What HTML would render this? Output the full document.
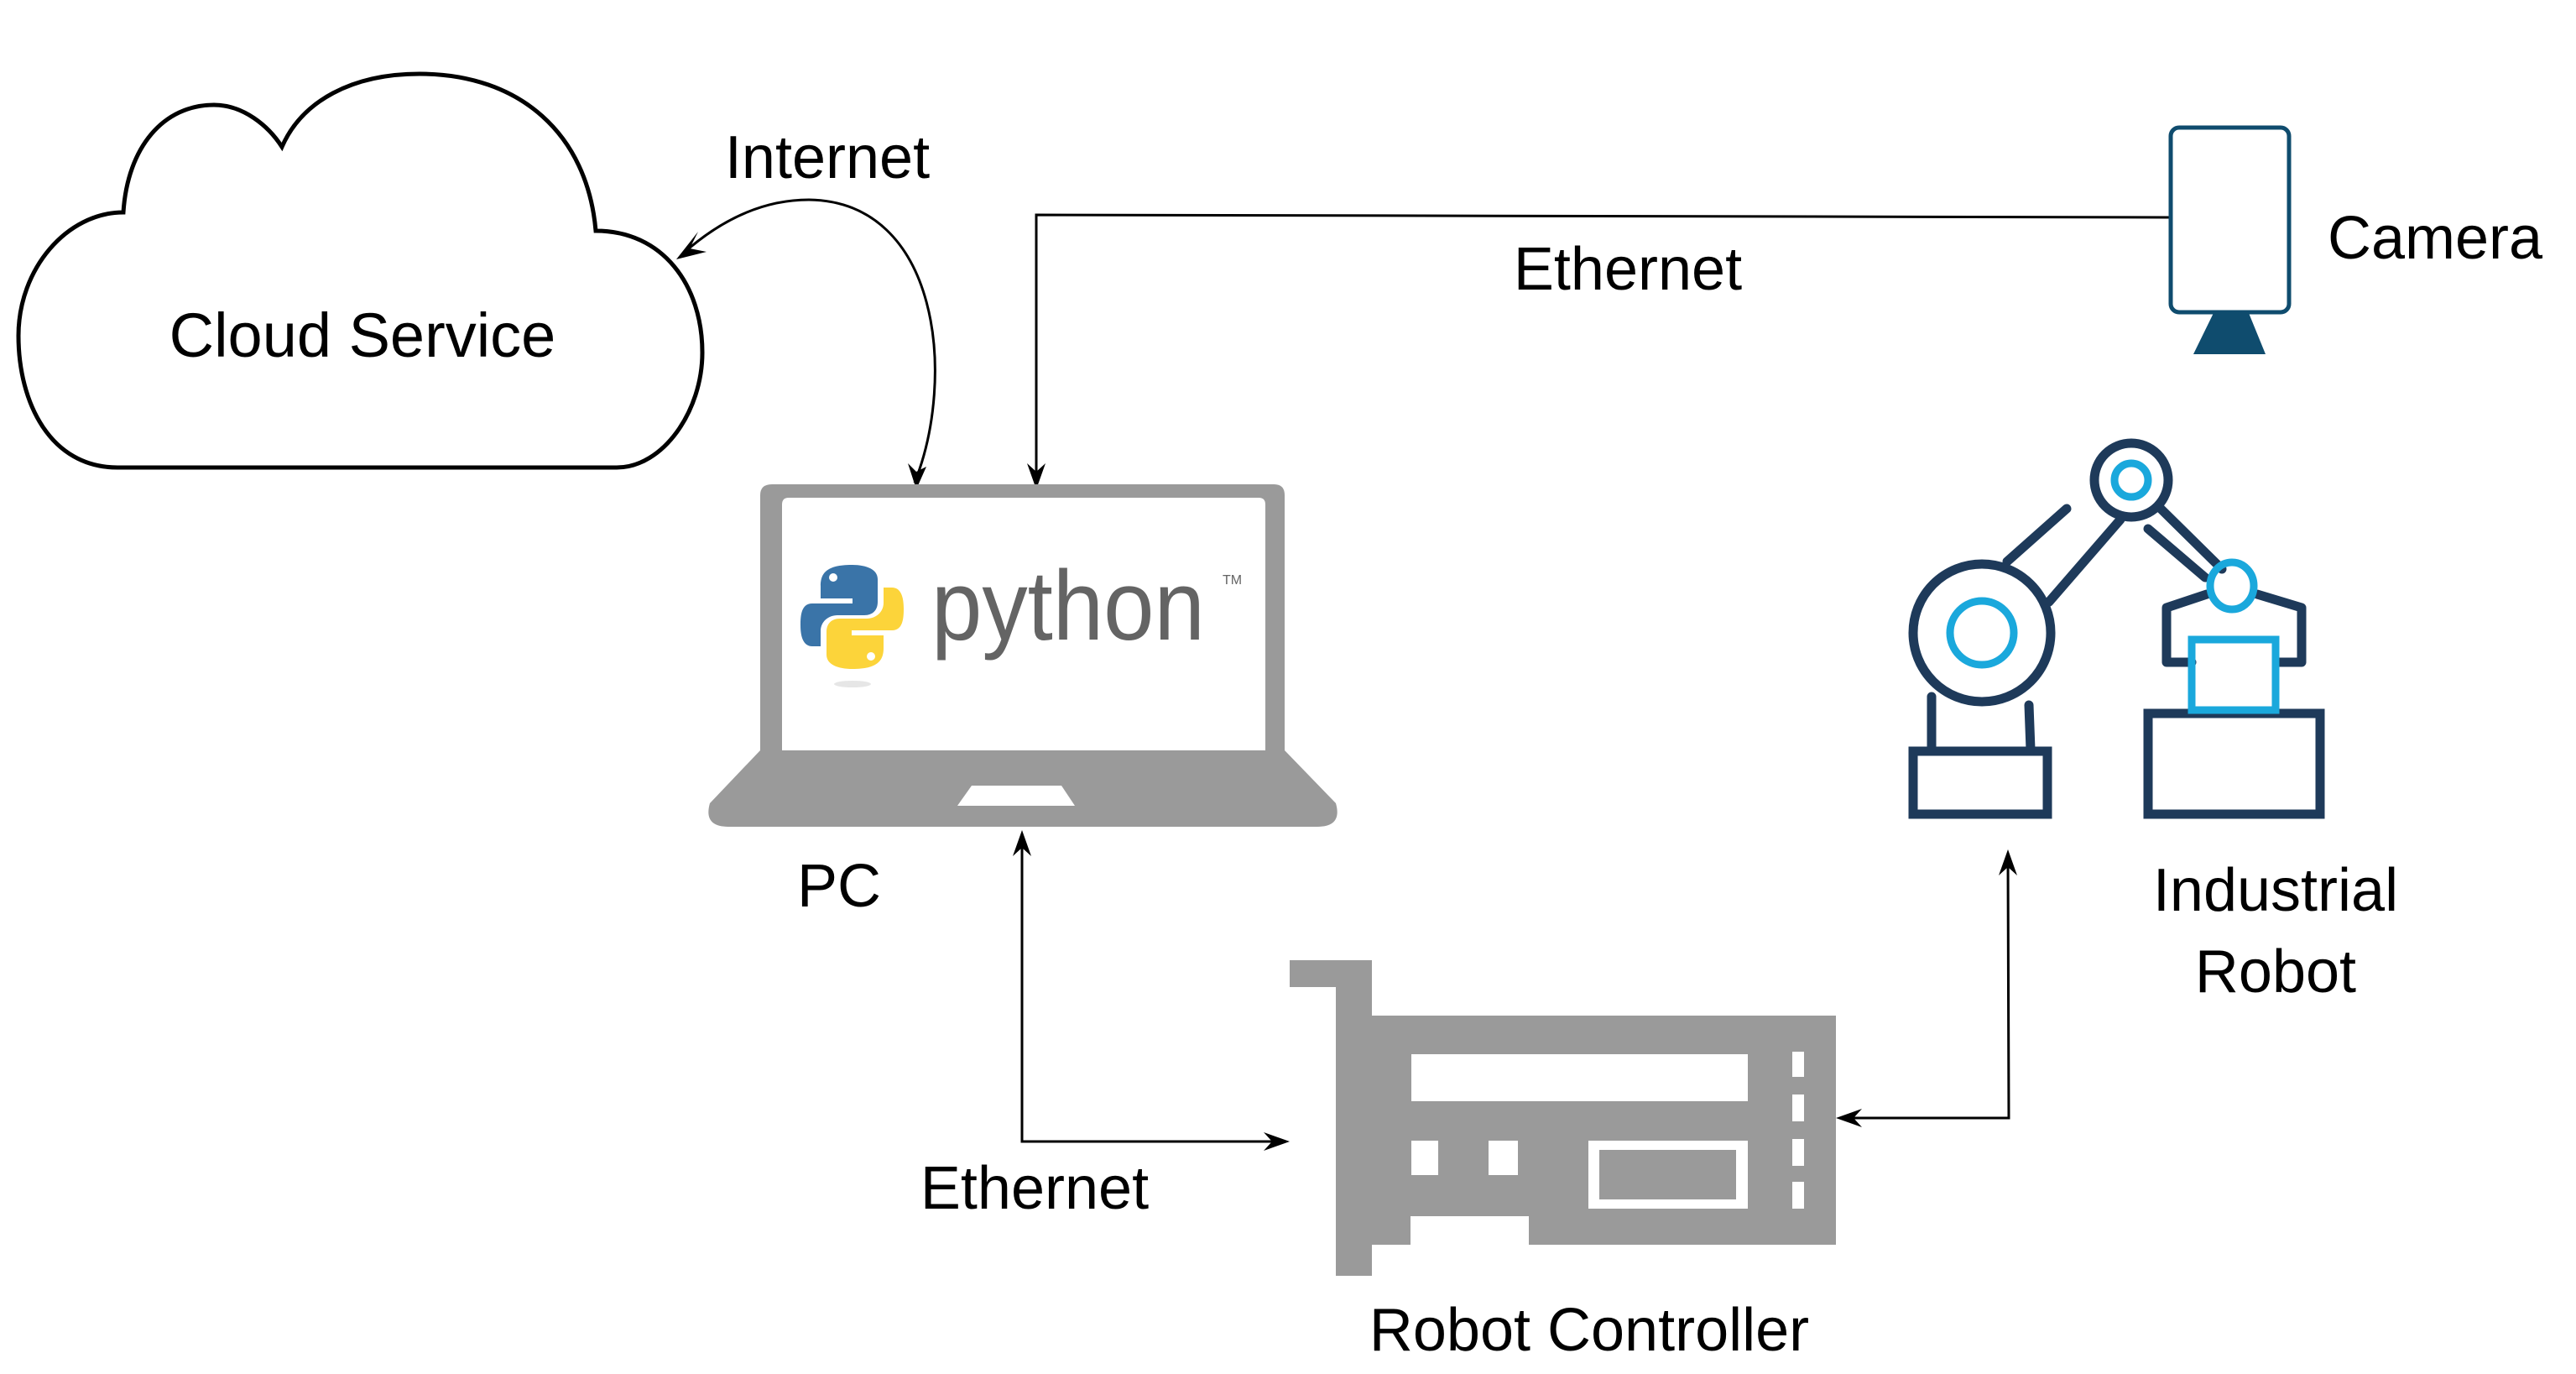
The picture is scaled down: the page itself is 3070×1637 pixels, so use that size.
<!DOCTYPE html>
<html><head><meta charset="utf-8"><style>
html,body{margin:0;padding:0;background:#fff;}
svg{display:block;}
text{font-family:"Liberation Sans",Arial,sans-serif;fill:#000;}
</style></head><body>
<svg width="3070" height="1637" viewBox="0 0 3070 1637" xmlns="http://www.w3.org/2000/svg">
<rect width="3070" height="1637" fill="#fff"/>

<!-- Cloud -->
<path d="M 140 557 C 60 557, 22 480, 22 400 C 22 320, 80 253, 147 253 C 152 175, 195 125, 255 125 C 290 125, 320 150, 336 175 C 360 120, 420 88, 500 88 C 620 88, 700 160, 710 275 C 790 275, 837 340, 837 420 C 837 490, 790 557, 735 557 Z" fill="#fff" stroke="#000" stroke-width="5"/>
<text x="432" y="425" font-size="74" text-anchor="middle">Cloud Service</text>

<!-- Internet curve -->
<path d="M 1090 575 C 1140 450, 1120 240, 964 238 C 900 238, 850 270, 814 302" fill="none" stroke="#000" stroke-width="3"/>
<polygon points="806,309 832,276 822,296 842,300" fill="#000"/>
<polygon points="1092,583 1082,552 1092,562 1104,556" fill="#000"/>
<text x="986" y="212" font-size="72" text-anchor="middle">Internet</text>

<!-- Camera ethernet line -->
<polyline points="2585,259 1235,256 1235,570" fill="none" stroke="#000" stroke-width="3"/>
<polygon points="1235,583 1224,552 1235,562 1246,552" fill="#000"/>
<text x="1940" y="345" font-size="72" text-anchor="middle">Ethernet</text>

<!-- Camera -->
<rect x="2587" y="152" width="141" height="220" rx="10" fill="#fff" stroke="#0f4c6e" stroke-width="5"/>
<polygon points="2638,373 2680,373 2700,422 2614,422" fill="#0f4c6e"/>
<text x="2774" y="308" font-size="72">Camera</text>

<!-- Laptop -->
<path d="M 920 577 L 1518 577 Q 1531 577 1531 590 L 1531 894 L 1592 957 Q 1600 985 1570 985 L 868 985 Q 838 985 846 957 L 906 894 L 906 590 Q 906 577 920 577 Z" fill="#9a9a9a"/>
<path d="M 940 593 L 1500 593 Q 1508 593 1508 601 L 1508 894 L 932 894 L 932 601 Q 932 593 940 593 Z" fill="#fff"/>
<polygon points="1158,936 1265,936 1281,960 1141,960" fill="#fff"/>

<!-- Python logo -->
<g>
<path d="M 1015 673 C 985 673 978 683 978 698 L 978 713 L 1016 713 L 1016 719 L 968 719 C 955 719 954 733 954 745 C 954 760 958 770 968 770 L 978 770 L 978 752 C 978 740 988 733 998 733 L 1030 733 C 1040 733 1046 727 1046 717 L 1046 690 C 1046 678 1032 673 1015 673 Z" fill="#3a74a8"/>
<circle cx="993" cy="688" r="5" fill="#fff"/>
<path d="M 1016 797 C 1046 797 1053 787 1053 772 L 1053 757 L 1015 757 L 1015 751 L 1063 751 C 1076 751 1077 737 1077 725 C 1077 710 1073 700 1063 700 L 1053 700 L 1053 718 C 1053 730 1043 737 1033 737 L 1001 737 C 991 737 985 743 985 753 L 985 780 C 985 792 999 797 1016 797 Z" fill="#fcd43a"/>
<circle cx="1038" cy="782" r="5" fill="#fff"/>
<ellipse cx="1016" cy="815" rx="22" ry="4" fill="#e6e6e6"/>
</g>
<text x="1110" y="762" font-size="118" style="fill:#646464" transform="translate(1110 0) scale(0.92 1) translate(-1110 0)">python</text>
<text x="1457" y="696" font-size="16" style="fill:#646464">TM</text>
<text x="1000" y="1080" font-size="72" text-anchor="middle">PC</text>

<!-- PC <-> controller -->
<polyline points="1218,1000 1218,1360 1525,1360" fill="none" stroke="#000" stroke-width="3"/>
<polygon points="1218,989 1207,1020 1218,1010 1229,1020" fill="#000"/>
<polygon points="1537,1360 1506,1349 1516,1360 1506,1371" fill="#000"/>
<text x="1233" y="1440" font-size="72" text-anchor="middle">Ethernet</text>

<!-- Robot <-> controller -->
<polyline points="2393,1022 2394,1332 2200,1332" fill="none" stroke="#000" stroke-width="3"/>
<polygon points="2393,1012 2382,1043 2393,1033 2404,1043" fill="#000"/>
<polygon points="2188,1332 2219,1321 2209,1332 2219,1343" fill="#000"/>

<!-- Robot Controller card -->
<g fill="#9a9a9a">
<rect x="1537" y="1144" width="98" height="32"/>
<rect x="1592" y="1144" width="43" height="376"/>
<path d="M 1635 1210 L 2188 1210 L 2188 1483 L 1822 1483 L 1822 1449 L 1681 1449 L 1681 1483 L 1635 1483 Z"/>
</g>
<g fill="#fff">
<rect x="1682" y="1256" width="401" height="56"/>
<rect x="1682" y="1359" width="32" height="41"/>
<rect x="1774" y="1359" width="35" height="41"/>
<rect x="1893" y="1359" width="190" height="81"/>
<rect x="2136" y="1253" width="14" height="30"/>
<rect x="2136" y="1304" width="14" height="32"/>
<rect x="2136" y="1357" width="14" height="32"/>
<rect x="2136" y="1408" width="14" height="32"/>
</g>
<rect x="1906" y="1370" width="163" height="59" fill="#9a9a9a"/>
<text x="1894" y="1609" font-size="72" text-anchor="middle">Robot Controller</text>

<!-- Industrial robot -->
<g fill="none" stroke-linecap="round">
<g stroke="#1e3a5a" stroke-width="11">
<circle cx="2540" cy="572" r="44"/>
<circle cx="2362" cy="754" r="82"/>
<line x1="2392" y1="669" x2="2463" y2="606"/>
<line x1="2442" y1="717" x2="2527" y2="619"/>
<line x1="2575" y1="606" x2="2648" y2="678"/>
<line x1="2560" y1="630" x2="2628" y2="688"/>
<polyline points="2630,708 2582,724 2582,789 2612,789" stroke-linejoin="round"/>
<polyline points="2690,708 2743,724 2743,789 2713,789" stroke-linejoin="round"/>
<rect x="2560" y="850" width="205" height="120"/>
<rect x="2280" y="895" width="160" height="75"/>
<line x1="2302" y1="830" x2="2302" y2="893"/>
<line x1="2418" y1="840" x2="2420" y2="893"/>
</g>
<g stroke="#1aa8dc" stroke-width="9">
<circle cx="2540" cy="572" r="20"/>
<circle cx="2362" cy="754" r="38"/>
<ellipse cx="2660" cy="698" rx="26" ry="28"/>
<rect x="2612" y="762" width="100" height="84"/>
</g>
</g>
<text x="2712" y="1085" font-size="72" text-anchor="middle">Industrial</text>
<text x="2712" y="1182" font-size="72" text-anchor="middle">Robot</text>
</svg>
</body></html>
